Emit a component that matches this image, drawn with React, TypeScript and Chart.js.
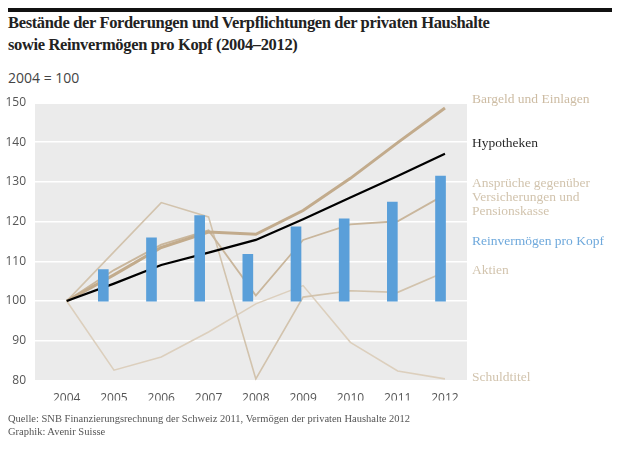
import { Chart, registerables } from "chart.js"
import { useEffect, useRef } from "react"

Chart.register(...registerables)

const years = [2004, 2005, 2006, 2007, 2008, 2009, 2010, 2011, 2012]
const barYears = [2005, 2006, 2007, 2008, 2009, 2010, 2011, 2012]

const bargeld = [100, 106.6, 113.5, 117.4, 116.8, 122.8, 130.9, 139.9, 148.6]
const hypotheken = [100, 104.4, 109.1, 112.2, 115.4, 120.6, 126.1, 131.5, 137.1]
const ansprueche = [100, 107.8, 114.2, 117.8, 101.4, 115.4, 119.3, 120.1, 126.8]
const aktien = [100, 112.4, 124.8, 121.2, 80.4, 101.0, 102.6, 102.2, 107.3]
const schuldtitel = [100, 82.6, 85.9, 92.2, 99.3, 103.9, 89.6, 82.4, 80.4]
const reinvermoegen = [107.9, 115.9, 121.5, 111.8, 118.7, 120.7, 124.9, 131.5]

const yTicks = [80, 90, 100, 110, 120, 130, 140, 150]

const plotBg = {
    id: "plotBg",
    beforeDraw(chart: any) {
        const { ctx, chartArea } = chart
        ctx.save()
        ctx.fillStyle = "#ebebeb"
        ctx.fillRect(chartArea.left, chartArea.top + 1.5, chartArea.right - chartArea.left, chartArea.bottom - chartArea.top - 1.5)
        ctx.restore()
    },
}

const lineSet = (label: string, data: number[], color: string, width: number, order: number) => ({
    type: "line" as const,
    label,
    data: data.map((v, i) => ({ x: years[i], y: v })),
    borderColor: color,
    borderWidth: width,
    pointRadius: 0,
    tension: 0,
    xAxisID: "x",
    order,
})

const ChartBox = () => {
    const canvasRef = useRef<HTMLCanvasElement>(null)

    useEffect(() => {
        if (!canvasRef.current) return
        const chart = new Chart(canvasRef.current, {
            type: "bar",
            data: {
                datasets: [
                    {
                        type: "bar",
                        label: "Reinvermögen pro Kopf",
                        data: reinvermoegen.map((v, i) => ({ x: barYears[i], y: [100, v] })) as any,
                        backgroundColor: "#5a9fd9",
                        barThickness: 10,
                        xAxisID: "xb",
                        order: 0,
                    },
                    lineSet("Hypotheken", hypotheken, "#000000", 2.2, 1),
                    lineSet("Bargeld und Einlagen", bargeld, "#c2ab8c", 3, 2),
                    lineSet("Ansprüche", ansprueche, "#c9b69c", 1.8, 3),
                    lineSet("Aktien", aktien, "#d2c3ad", 1.6, 4),
                    lineSet("Schuldtitel", schuldtitel, "#dccfbd", 1.6, 5),
                ] as any,
            },
            options: {
                animation: false,
                responsive: false,
                devicePixelRatio: 1,
                layout: { padding: { top: 102.5, right: 153, bottom: 58.5, left: 0 } },
                plugins: { legend: { display: false }, tooltip: { enabled: false } },
                scales: {
                    x: {
                        type: "linear",
                        min: 2003.33,
                        max: 2012.466,
                        offset: false,
                        afterBuildTicks: (s: any) => {
                            s.ticks = years.map((v) => ({ value: v }))
                        },
                        afterFit: (s: any) => {
                            s.height = 20
                        },
                        grid: { display: false },
                        border: { display: false },
                        ticks: {
                            color: "#555",
                            font: { family: "'Open Sans'", size: 12 },
                            padding: 3,
                            maxRotation: 0,
                            autoSkip: false,
                            callback: (v: any) => String(v),
                        },
                    },
                    xb: {
                        type: "linear",
                        display: false,
                        min: 2003.478,
                        max: 2012.446,
                        offset: false,
                    },
                    y: {
                        min: 80,
                        max: 150,
                        afterBuildTicks: (s: any) => {
                            s.ticks = yTicks.map((v) => ({ value: v }))
                        },
                        afterFit: (s: any) => {
                            s.width = 35
                        },
                        grid: { color: "#ffffff", lineWidth: 1.5, drawTicks: false },
                        border: { display: false },
                        ticks: {
                            color: "#555",
                            font: { family: "'Open Sans'", size: 12 },
                            padding: 9,
                        },
                    },
                },
            },
            plugins: [plotBg],
        })
        return () => {
            chart.destroy()
        }
    }, [])

    return <canvas ref={canvasRef} width={620} height={459} style={{ position: "absolute", left: 0, top: 0 }} />
}

const serif = "'Liberation Serif', serif"

const sideLabel = (top: number, color: string, text: string[]) => (
    <div style={{ position: "absolute", left: 472, top, color, fontFamily: serif, fontSize: 13.5, lineHeight: "14px" }}>
        {text.map((t) => (
            <div key={t}>{t}</div>
        ))}
    </div>
)

const App = () => {
    return (
        <div style={{ position: "absolute", left: 0, top: 0, width: 620, height: 459, background: "#fff", overflow: "hidden" }}>
            <div style={{ position: "absolute", left: 8, top: 8, width: 604, height: 4, background: "#111" }} />
            <div
                style={{
                    position: "absolute",
                    left: 8,
                    top: 12,
                    fontFamily: serif,
                    fontWeight: "bold",
                    fontSize: 16.5,
                    letterSpacing: "-0.35px",
                    lineHeight: "22px",
                    color: "#222",
                    whiteSpace: "nowrap",
                }}
            >
                <div>Bestände der Forderungen und Verpflichtungen der privaten Haushalte</div>
                <div>sowie Reinvermögen pro Kopf (2004–2012)</div>
            </div>
            <div style={{ position: "absolute", left: 8, top: 68, fontFamily: "'Open Sans'", fontSize: 14, color: "#444" }}>2004 = 100</div>
            <ChartBox />
            {sideLabel(92, "#cdbca3", ["Bargeld und Einlagen"])}
            {sideLabel(136, "#2a2a2a", ["Hypotheken"])}
            {sideLabel(176, "#d2c4ae", ["Ansprüche gegenüber", "Versicherungen und", "Pensionskasse"])}
            {sideLabel(234, "#6fa9dc", ["Reinvermögen pro Kopf"])}
            {sideLabel(263, "#d2c4ae", ["Aktien"])}
            {sideLabel(370, "#d2c4ae", ["Schuldtitel"])}
            <div style={{ position: "absolute", left: 8, top: 413, fontFamily: serif, fontSize: 10.5, lineHeight: "12.5px", color: "#555" }}>
                <div>Quelle: SNB Finanzierungsrechnung der Schweiz 2011, Vermögen der privaten Haushalte 2012</div>
                <div>Graphik: Avenir Suisse</div>
            </div>
        </div>
    )
}

export default App
